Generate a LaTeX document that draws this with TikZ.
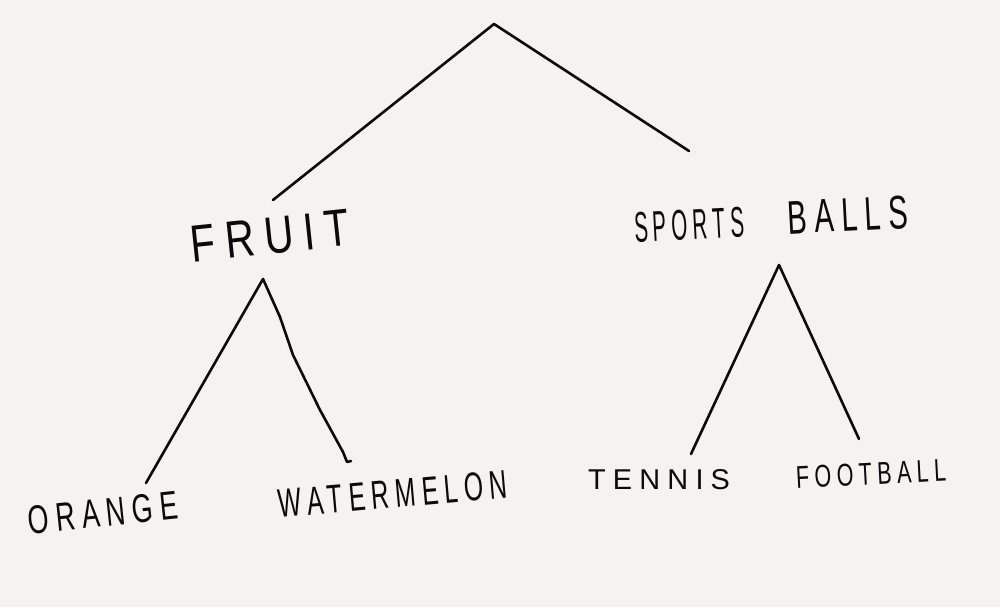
\documentclass[tikz,border=0pt]{standalone}
\usepackage{fontspec}
\setmainfont{Liberation Sans}
\usepackage{graphicx}
\definecolor{paper}{HTML}{F4F3F0}
\definecolor{ink}{HTML}{0A0A0A}
\newcommand{\hw}[3]{\resizebox{#1pt}{#2pt}{\fontsize{40}{40}\selectfont\addfontfeature{LetterSpace=25}#3}}
\tikzset{
  branch/.style={draw=ink, line width=2.6pt, line cap=round, line join=round},
  lbl/.style={inner sep=0pt, text=ink, anchor=center}
}
\begin{document}
\begin{tikzpicture}[x=1pt,y=-1pt]
\fill[paper] (0,0) rectangle (1000,607);
\useasboundingbox (0,0) rectangle (1000,607);
% labels
\node[lbl, rotate=6] (fruit) at (270,236) {\hw{160}{36}{FRUIT}};
\node[lbl, rotate=3] (sports) at (771,219) {\hw{110}{30}{SPORTS}\hspace{44pt}\hw{120}{33}{BALLS}};
\node[lbl, rotate=6] (orange) at (103,513) {\hw{150}{28}{ORANGE}};
\node[lbl, rotate=5] (water) at (393,494) {\hw{230}{28}{WATERMELON}};
\node[lbl] (tennis) at (659,480) {\hw{142}{20}{TENNIS}};
\node[lbl, rotate=3] (football) at (871,474) {\hw{150}{22}{FOOTBALL}};
% connector points
\coordinate (root) at (494,24);
\coordinate (rootL) at (273,200);
\coordinate (rootR) at (689,151);
\coordinate (fruitTop) at (263,279);
\coordinate (orangeTop) at (146,483);
\coordinate (waterTop) at (351,461);
\coordinate (sportsTop) at (779,265);
\coordinate (tennisTop) at (691,454);
\coordinate (footballTop) at (859,439);
% connectors
\draw[branch] (rootL) -- (root) -- (rootR);
\draw[branch] (orangeTop) -- (fruitTop) -- (280,317) -- (293,355) -- (320,410) -- (343,452) -- (347,462) -- (waterTop);
\draw[branch] (tennisTop) -- (sportsTop) -- (footballTop);
\end{tikzpicture}
\end{document}
